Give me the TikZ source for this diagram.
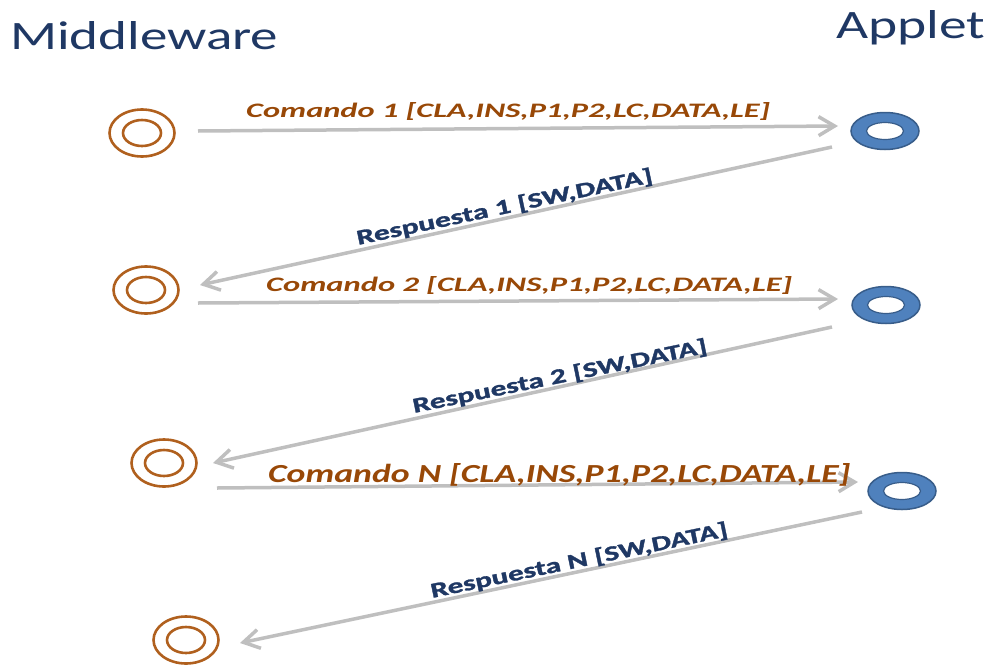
\documentclass[tikz,border=0pt]{standalone}
\usepackage{fontspec}
\setmainfont{Carlito}[BoldFeatures={FakeBold=1.2}]
\usetikzlibrary{arrows.meta,shapes.geometric,calc}
\definecolor{brownline}{HTML}{B0601E}
\definecolor{browntext}{HTML}{984807}
\definecolor{navy}{HTML}{1F3864}
\definecolor{donutfill}{HTML}{4F81BD}
\definecolor{donutedge}{HTML}{385D8A}
\definecolor{arrowgray}{HTML}{BFBFBF}

\tikzset{
  mwring/.style={ellipse, draw=brownline, line width=2.6pt, minimum width=65pt,
    minimum height=47pt, inner sep=0pt,
    path picture={\draw[brownline, line width=2.6pt] (path picture bounding box.center)
      ellipse [x radius=19pt, y radius=13pt];}},
  donut/.style={ellipse, fill=donutfill, draw=donutedge, line width=1.5pt,
    minimum width=68pt, minimum height=37pt, inner sep=0pt,
    path picture={\draw[donutedge, line width=1.2pt, fill=white] (path picture bounding box.center)
      ellipse [x radius=18.5pt, y radius=8.5pt];}},
  msg/.style={draw=arrowgray, line width=3.5pt, -{Straight Barb[length=16pt,width=19pt]}},
  cmdlabel/.style={anchor=base west, inner sep=0pt, text=browntext, font=\bfseries\itshape},
  resplabel/.style={anchor=base west, inner sep=0pt, text=navy, font=\bfseries},
  title/.style={anchor=base west, inner sep=0pt, text=navy},
}

\begin{document}
\begin{tikzpicture}[x=1pt, y=-1pt]
  \useasboundingbox (0,0) rectangle (990,664);

  % column titles
  \node[title] (mw) at (10,49) {\resizebox{268pt}{28pt}{Middleware}};
  \node[title] (ap) at (836,38) {\resizebox{149pt}{28pt}{Applet}};

  % middleware side
  \node[mwring] (m1) at (142,133) {};
  \node[mwring] (m2) at (146,290) {};
  \node[mwring] (m3) at (164,463) {};
  \node[mwring] (m4) at (186,640) {};

  % applet side
  \node[donut] (a1) at (885,131) {};
  \node[donut] (a2) at (886,305) {};
  \node[donut] (a3) at (902,491) {};

  % command / response exchange
  \draw[msg] ($(m1)+(56,-2)$) -- ($(a1)+(-47,-5)$);
  \draw[msg] ($(a1)+(-53,16)$) -- ($(m2)+(54,-5)$);
  \draw[msg] ($(m2)+(52,13)$) -- ($(a2)+(-48,-6)$);
  \draw[msg] ($(a2)+(-54,22)$) -- ($(m3)+(49,0)$);
  \draw[msg] ($(m3)+(53,25)$) -- ($(a3)+(-44,-9)$);
  \draw[msg] ($(a3)+(-40,21)$) -- ($(m4)+(54,3)$);

  % labels
  \node[cmdlabel] (c1) at (246,117) {\resizebox{524pt}{15pt}{Comando 1 [CLA,INS,P1,P2,LC,DATA,LE]}};
  \node[cmdlabel] (c2) at (266,291) {\resizebox{526pt}{15pt}{Comando 2 [CLA,INS,P1,P2,LC,DATA,LE]}};
  \node[cmdlabel] (cn) at (268,482) {\resizebox{582pt}{19pt}{Comando N [CLA,INS,P1,P2,LC,DATA,LE]}};

  \node[resplabel, rotate=12] (r1) at (358,245) {\resizebox{302pt}{15.5pt}{Respuesta 1 [SW,DATA]}};
  \node[resplabel, rotate=11.6] (r2) at (414,413) {\resizebox{300pt}{15.5pt}{Respuesta 2 [SW,DATA]}};
  \node[resplabel, rotate=11.8] (rn) at (432,598) {\resizebox{303pt}{15.5pt}{Respuesta N [SW,DATA]}};
\end{tikzpicture}
\end{document}
